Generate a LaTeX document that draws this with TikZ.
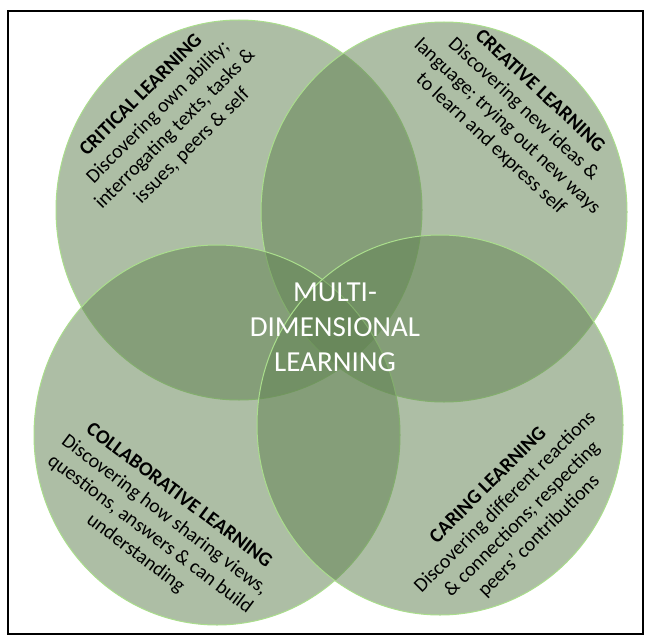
\documentclass[tikz,border=0pt]{standalone}
\usepackage{fontspec}
\setmainfont{Carlito}
\usepackage{tikz}
\usetikzlibrary{shapes,shapes.geometric,calc,positioning}

\definecolor{leafgreen}{RGB}{97,130,82}
\definecolor{rim}{RGB}{170,222,140}

\begin{document}
\begin{tikzpicture}
	[x=1pt,y=-1pt,
	lobe/.style={shape=ellipse,draw=rim,line width=1pt,fill=leafgreen,
		fill opacity=0.52,minimum width=366pt,minimum height=380pt,inner sep=0pt},
	note/.style={align=center,text=black,inner sep=0pt,
		font=\fontsize{20}{24}\selectfont}]

	\useasboundingbox (0,0) rectangle (650,642);
	\draw[line width=1.5pt] (8,11) rectangle (643,634);

	% the four learning circles
	\foreach \name/\pos in {critical/{(239,210)},creative/{(444,212)},
		collaborative/{(217,435)},caring/{(440,425)}}{
		\node[lobe] (\name) at \pos {};
	}

	\node[note,rotate=45] (criticaltext) at (167,121)
		{\textbf{CRITICAL LEARNING}\\Discovering own ability;\\interrogating texts, tasks \&\\issues, peers \& self};
	\node[note,rotate=-43] (creativetext) at (515,118)
		{\textbf{CREATIVE LEARNING}\\Discovering new ideas \&\\language; trying out new ways\\to learn and express self};
	\node[note,rotate=-37] (collabtext) at (157,525)
		{\textbf{COLLABORATIVE LEARNING}\\Discovering how sharing views,\\questions, answers \& can build\\understanding};
	\node[note,rotate=45] (caringtext) at (514,511)
		{\textbf{CARING LEARNING}\\Discovering different reactions\\\& connections; respecting\\peers’ contributions};

	\node[note,text=white,font=\fontsize{29}{35}\selectfont] (centre) at (335,327)
		{MULTI-\\DIMENSIONAL\\LEARNING};
\end{tikzpicture}
\end{document}
